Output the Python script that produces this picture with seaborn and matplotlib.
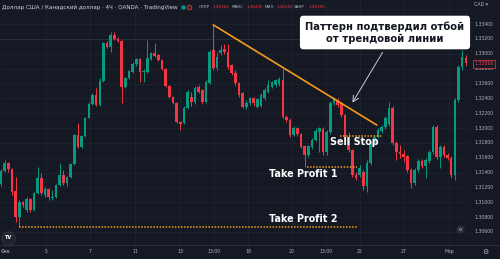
import matplotlib
matplotlib.use("Agg")
import matplotlib.pyplot as plt
import seaborn as sns
import pandas as pd
import numpy as np

# ---------------- data (USD/CAD, 4H candles) ----------------
open_ = [1.3125, 1.3142, 1.3153, 1.3145, 1.3115, 1.3080, 1.3100, 1.3090, 1.3105, 1.3090,
         1.3113, 1.3133, 1.3110, 1.3118, 1.3106, 1.3107, 1.3123, 1.3137, 1.3126, 1.3134,
         1.3152, 1.3191, 1.3175, 1.3189, 1.3214, 1.3232, 1.3245, 1.3231, 1.3264, 1.3315,
         1.3309, 1.3325, 1.3320, 1.3317, 1.3255, 1.3268, 1.3276, 1.3286, 1.3293, 1.3276,
         1.3276, 1.3293, 1.3301, 1.3298, 1.3292, 1.3280, 1.3257, 1.3242, 1.3234, 1.3208,
         1.3207, 1.3227, 1.3242, 1.3235, 1.3255, 1.3251, 1.3235, 1.3261, 1.3305, 1.3281,
         1.3301, 1.3307, 1.3303, 1.3285, 1.3274, 1.3261, 1.3247, 1.3228, 1.3234, 1.3241,
         1.3228, 1.3230, 1.3241, 1.3249, 1.3255, 1.3258, 1.3259, 1.3265, 1.3215, 1.3211,
         1.3191, 1.3200, 1.3192, 1.3176, 1.3164, 1.3175, 1.3184, 1.3195, 1.3199, 1.3168,
         1.3195, 1.3234, 1.3238, 1.3234, 1.3218, 1.3188, 1.3170, 1.3137, 1.3137, 1.3141,
         1.3122, 1.3153, 1.3180, 1.3188, 1.3196, 1.3201, 1.3206, 1.3227, 1.3180, 1.3168,
         1.3165, 1.3162, 1.3144, 1.3126, 1.3144, 1.3156, 1.3149, 1.3156, 1.3168, 1.3201,
         1.3161, 1.3175, 1.3164, 1.3160, 1.3137, 1.3238, 1.3282, 1.3294]
high = [1.3145, 1.3157, 1.3154, 1.3146, 1.3134, 1.3103, 1.3102, 1.3107, 1.3106, 1.3114,
        1.3148, 1.3139, 1.3121, 1.3119, 1.3117, 1.3125, 1.3153, 1.3144, 1.3135, 1.3153,
        1.3192, 1.3207, 1.3191, 1.3215, 1.3235, 1.3247, 1.3254, 1.3268, 1.3316, 1.3317,
        1.3329, 1.3329, 1.3323, 1.3319, 1.3269, 1.3278, 1.3289, 1.3294, 1.3294, 1.3280,
        1.3319, 1.3303, 1.3315, 1.3300, 1.3293, 1.3281, 1.3258, 1.3243, 1.3235, 1.3210,
        1.3230, 1.3251, 1.3249, 1.3257, 1.3258, 1.3253, 1.3265, 1.3305, 1.3339, 1.3303,
        1.3312, 1.3313, 1.3313, 1.3286, 1.3278, 1.3262, 1.3249, 1.3238, 1.3242, 1.3242,
        1.3241, 1.3247, 1.3254, 1.3265, 1.3264, 1.3266, 1.3269, 1.3280, 1.3218, 1.3213,
        1.3203, 1.3201, 1.3193, 1.3177, 1.3177, 1.3187, 1.3200, 1.3201, 1.3201, 1.3197,
        1.3236, 1.3242, 1.3241, 1.3235, 1.3219, 1.3195, 1.3172, 1.3141, 1.3150, 1.3144,
        1.3157, 1.3183, 1.3191, 1.3200, 1.3204, 1.3216, 1.3235, 1.3230, 1.3183, 1.3177,
        1.3170, 1.3164, 1.3146, 1.3146, 1.3158, 1.3158, 1.3160, 1.3170, 1.3204, 1.3204,
        1.3177, 1.3177, 1.3166, 1.3162, 1.3241, 1.3285, 1.3305, 1.3298]
low = [1.3122, 1.3141, 1.3141, 1.3110, 1.3073, 1.3068, 1.3094, 1.3087, 1.3087, 1.3088,
       1.3111, 1.3110, 1.3107, 1.3103, 1.3103, 1.3106, 1.3122, 1.3123, 1.3122, 1.3133,
       1.3150, 1.3173, 1.3173, 1.3188, 1.3213, 1.3231, 1.3230, 1.3230, 1.3262, 1.3308,
       1.3303, 1.3319, 1.3316, 1.3234, 1.3254, 1.3266, 1.3274, 1.3284, 1.3262, 1.3262,
       1.3274, 1.3292, 1.3296, 1.3290, 1.3278, 1.3255, 1.3241, 1.3232, 1.3207, 1.3197,
       1.3206, 1.3226, 1.3230, 1.3232, 1.3247, 1.3232, 1.3234, 1.3259, 1.3278, 1.3278,
       1.3298, 1.3300, 1.3280, 1.3272, 1.3258, 1.3242, 1.3227, 1.3226, 1.3231, 1.3230,
       1.3227, 1.3228, 1.3238, 1.3247, 1.3254, 1.3255, 1.3257, 1.3214, 1.3208, 1.3188,
       1.3189, 1.3189, 1.3173, 1.3148, 1.3161, 1.3172, 1.3183, 1.3168, 1.3164, 1.3164,
       1.3192, 1.3231, 1.3228, 1.3215, 1.3187, 1.3168, 1.3134, 1.3130, 1.3134, 1.3117,
       1.3114, 1.3150, 1.3177, 1.3186, 1.3193, 1.3199, 1.3203, 1.3177, 1.3157, 1.3160,
       1.3154, 1.3141, 1.3119, 1.3123, 1.3141, 1.3146, 1.3133, 1.3153, 1.3165, 1.3158,
       1.3146, 1.3161, 1.3157, 1.3133, 1.3130, 1.3235, 1.3278, 1.3284]
close = [1.3142, 1.3153, 1.3145, 1.3114, 1.3080, 1.3100, 1.3096, 1.3105, 1.3090, 1.3113,
         1.3133, 1.3113, 1.3118, 1.3107, 1.3107, 1.3123, 1.3137, 1.3126, 1.3134, 1.3152,
         1.3191, 1.3175, 1.3189, 1.3214, 1.3232, 1.3245, 1.3231, 1.3264, 1.3315, 1.3309,
         1.3325, 1.3320, 1.3317, 1.3255, 1.3268, 1.3277, 1.3286, 1.3293, 1.3276, 1.3277,
         1.3294, 1.3301, 1.3297, 1.3292, 1.3280, 1.3257, 1.3242, 1.3234, 1.3208, 1.3206,
         1.3227, 1.3249, 1.3235, 1.3254, 1.3249, 1.3235, 1.3262, 1.3303, 1.3281, 1.3296,
         1.3305, 1.3303, 1.3282, 1.3274, 1.3261, 1.3245, 1.3228, 1.3234, 1.3241, 1.3234,
         1.3239, 1.3245, 1.3251, 1.3258, 1.3262, 1.3265, 1.3266, 1.3215, 1.3211, 1.3191,
         1.3200, 1.3192, 1.3175, 1.3164, 1.3176, 1.3184, 1.3196, 1.3200, 1.3168, 1.3195,
         1.3234, 1.3239, 1.3231, 1.3218, 1.3188, 1.3170, 1.3137, 1.3133, 1.3146, 1.3122,
         1.3153, 1.3180, 1.3188, 1.3197, 1.3201, 1.3214, 1.3227, 1.3180, 1.3168, 1.3165,
         1.3161, 1.3144, 1.3126, 1.3144, 1.3156, 1.3149, 1.3157, 1.3168, 1.3201, 1.3161,
         1.3175, 1.3164, 1.3160, 1.3137, 1.3238, 1.3282, 1.3296, 1.3287]

time_labels = ["Фев", "5", "7", "11", "13", "13:00", "18", "20", "13:00", "25", "27", "Мар"]
time_label_bar = [-1.1, 12.3, 24.3, 36.6, 48.9, 58.2, 67.5, 79.5, 88.8, 98.1, 110.1, 122.4]
price_ticks = [1.334, 1.332, 1.330, 1.328, 1.326, 1.324, 1.322, 1.320,
               1.318, 1.316, 1.314, 1.312, 1.310, 1.308, 1.306]
trend_bar = [58, 102.7]
trend_price = [1.3339, 1.3204]
sell_stop = 1.3189
take_profit_1 = 1.3148
take_profit_2 = 1.3067
last_price = 1.32866
ohlc_keys = ["ОТКР", "МАКС", "МИН", "ЗАКР"]
ohlc_vals = ["1.36362", "1.36436", "1.36292", "1.36305"]

# ---------------- style ----------------
BG = "#151924"
GRID = "#1f2330"
GREEN = "#089981"
RED = "#f23645"
ORANGE = "#f59a1b"
TXT = "#b2b5be"

sns.set_theme(style="dark", rc={"axes.facecolor": BG, "figure.facecolor": BG})
plt.rcParams["font.family"] = ["DejaVu Sans"]

W, H = 500, 259
fig = plt.figure(figsize=(5.0, 2.59), dpi=100, facecolor=BG)
ax = fig.add_axes([0, 0, 1, 1])
ax.set_facecolor(BG)

# pixel -> data helpers (layout only)
X0, DX = 1.0, 3.66
Y0P, DY = 1.33725, 0.0001347
def xi(px):
    return (px - X0) / DX
def yp(py):
    return Y0P - py * DY

ax.set_xlim(xi(0), xi(W))
ax.set_ylim(yp(H), yp(0))
ax.set_axis_off()

RIGHT = xi(468)
BOTTOM = yp(245)

# grid
ax.hlines(price_ticks + [1.336], xi(0), RIGHT, colors=GRID, lw=0.6, zorder=1)
ax.vlines(time_label_bar, BOTTOM, yp(0), colors=GRID, lw=0.6, zorder=1)
ax.hlines([1.332], xi(0), RIGHT, colors="#3a3f4d", lw=0.6, linestyles=(0, (1.5, 1.5)), zorder=1)
ax.hlines([BOTTOM], xi(0), xi(W), colors="#2a2e39", lw=0.7, zorder=1)

# candles
df = pd.DataFrame({"open": open_, "high": high, "low": low, "close": close})
df["bar"] = np.arange(len(df))
up = df["close"] >= df["open"]
cols = np.where(up, GREEN, RED)
ax.vlines(df["bar"], df["low"], df["high"], colors=cols, lw=0.7, zorder=3)
bottom = np.minimum(df["open"], df["close"])
height = np.maximum(np.abs(df["close"] - df["open"]), 0.00006)
ax.bar(df["bar"], height, bottom=bottom, width=0.72, color=cols, linewidth=0, zorder=4)

# trend line
sns.lineplot(x=trend_bar, y=trend_price, ax=ax, color=ORANGE, lw=1.2, zorder=5, legend=False)
ax.set_axis_off()

# dotted levels
dots = (0, (1.0, 1.0))
ax.hlines(take_profit_2, xi(19), xi(357), colors=ORANGE, lw=1.1, linestyles=dots, zorder=5)
ax.hlines(take_profit_1, xi(307), xi(357), colors=ORANGE, lw=1.1, linestyles=dots, zorder=5)
ax.hlines(sell_stop, xi(340), xi(382), colors=ORANGE, lw=1.1, linestyles=dots, zorder=5)

lab = dict(color="white", fontsize=6.9, fontweight="bold", ha="center", va="center", zorder=7)
ax.text(xi(354), yp(142), "Sell Stop", **lab)
ax.text(xi(303), yp(174), "Take Profit 1", **lab)
ax.text(xi(303), yp(218.5), "Take Profit 2", **lab)

# callout
ax.annotate("", xy=(xi(351), yp(105)), xytext=(xi(384), yp(50)),
            arrowprops=dict(arrowstyle="->,head_length=0.35,head_width=0.18", color="#c9cbd1", lw=0.7),
            zorder=6)
ax.text(xi(385), yp(32.5), "Паттерн подтвердил отбой\nот трендовой линии",
        color="#131722", fontsize=7.2, fontweight="bold", ha="center", va="center",
        linespacing=1.25, zorder=8,
        bbox=dict(boxstyle="round,pad=0.55,rounding_size=0.35", fc="white", ec="none"))

# price axis labels
for p in price_ticks:
    ax.text(xi(484), p, f"{p:.5f}", color=TXT, fontsize=3.3, ha="center", va="center")
ax.text(xi(484), last_price, f"{last_price:.5f}", color=RED, fontsize=3.3, ha="center", va="center",
        zorder=9, bbox=dict(boxstyle="square,pad=0.35", fc=BG, ec=RED, lw=0.5))
ax.text(xi(481), yp(5), "CAD ▾", color=TXT, fontsize=3.4, ha="center", va="center")

# time axis labels
for lbl, b in zip(time_labels, time_label_bar):
    if lbl == time_labels[0] and b < 0:
        ax.text(xi(0.5), yp(251.5), lbl, color=TXT, fontsize=3.3, ha="left", va="center")
    else:
        ax.text(b, yp(251.5), lbl, color=TXT, fontsize=3.3, ha="center", va="center")
ax.text(xi(485), yp(251.5), "⚙", color=TXT, fontsize=5, ha="center", va="center")

# header
ax.text(xi(2), yp(7), "Доллар США / Канадский доллар · 4Ч · OANDA · TradingView",
        color="#d1d4dc", fontsize=4.1, ha="left", va="center")
ax.plot([xi(183)], [yp(7)], "o", ms=2.2, color=GREEN, zorder=6)
ax.plot([xi(189.5)], [yp(7)], "o", ms=3.4, mfc="#4a1e27", mec=RED, mew=0.5, zorder=6)
key_x = [199, 232, 265, 294]
val_x = [213, 247, 277, 309]
for k, v, kx, vx in zip(ohlc_keys, ohlc_vals, key_x, val_x):
    ax.text(xi(kx), yp(7), k, color=TXT, fontsize=3.0, ha="left", va="center")
    ax.text(xi(vx), yp(7), v, color=RED, fontsize=3.0, ha="left", va="center")

# TradingView badge and small scale button
ax.plot([xi(8.5)], [yp(237.5)], "o", ms=9.5, mfc="#1e222d", mec="#363a45", mew=0.6, zorder=6)
ax.text(xi(8.5), yp(237.8), "TV", color="white", fontsize=3.6, fontweight="bold",
        ha="center", va="center", zorder=7)
ax.plot([xi(460)], [yp(228.5)], "o", ms=5, mfc="#2a2e39", mec="#2a2e39", zorder=6)
ax.plot([xi(460)], [yp(228.5)], "o", ms=1.5, mfc="none", mec=TXT, mew=0.4, zorder=7)

fig.savefig("out.png", dpi=100, facecolor=BG)
